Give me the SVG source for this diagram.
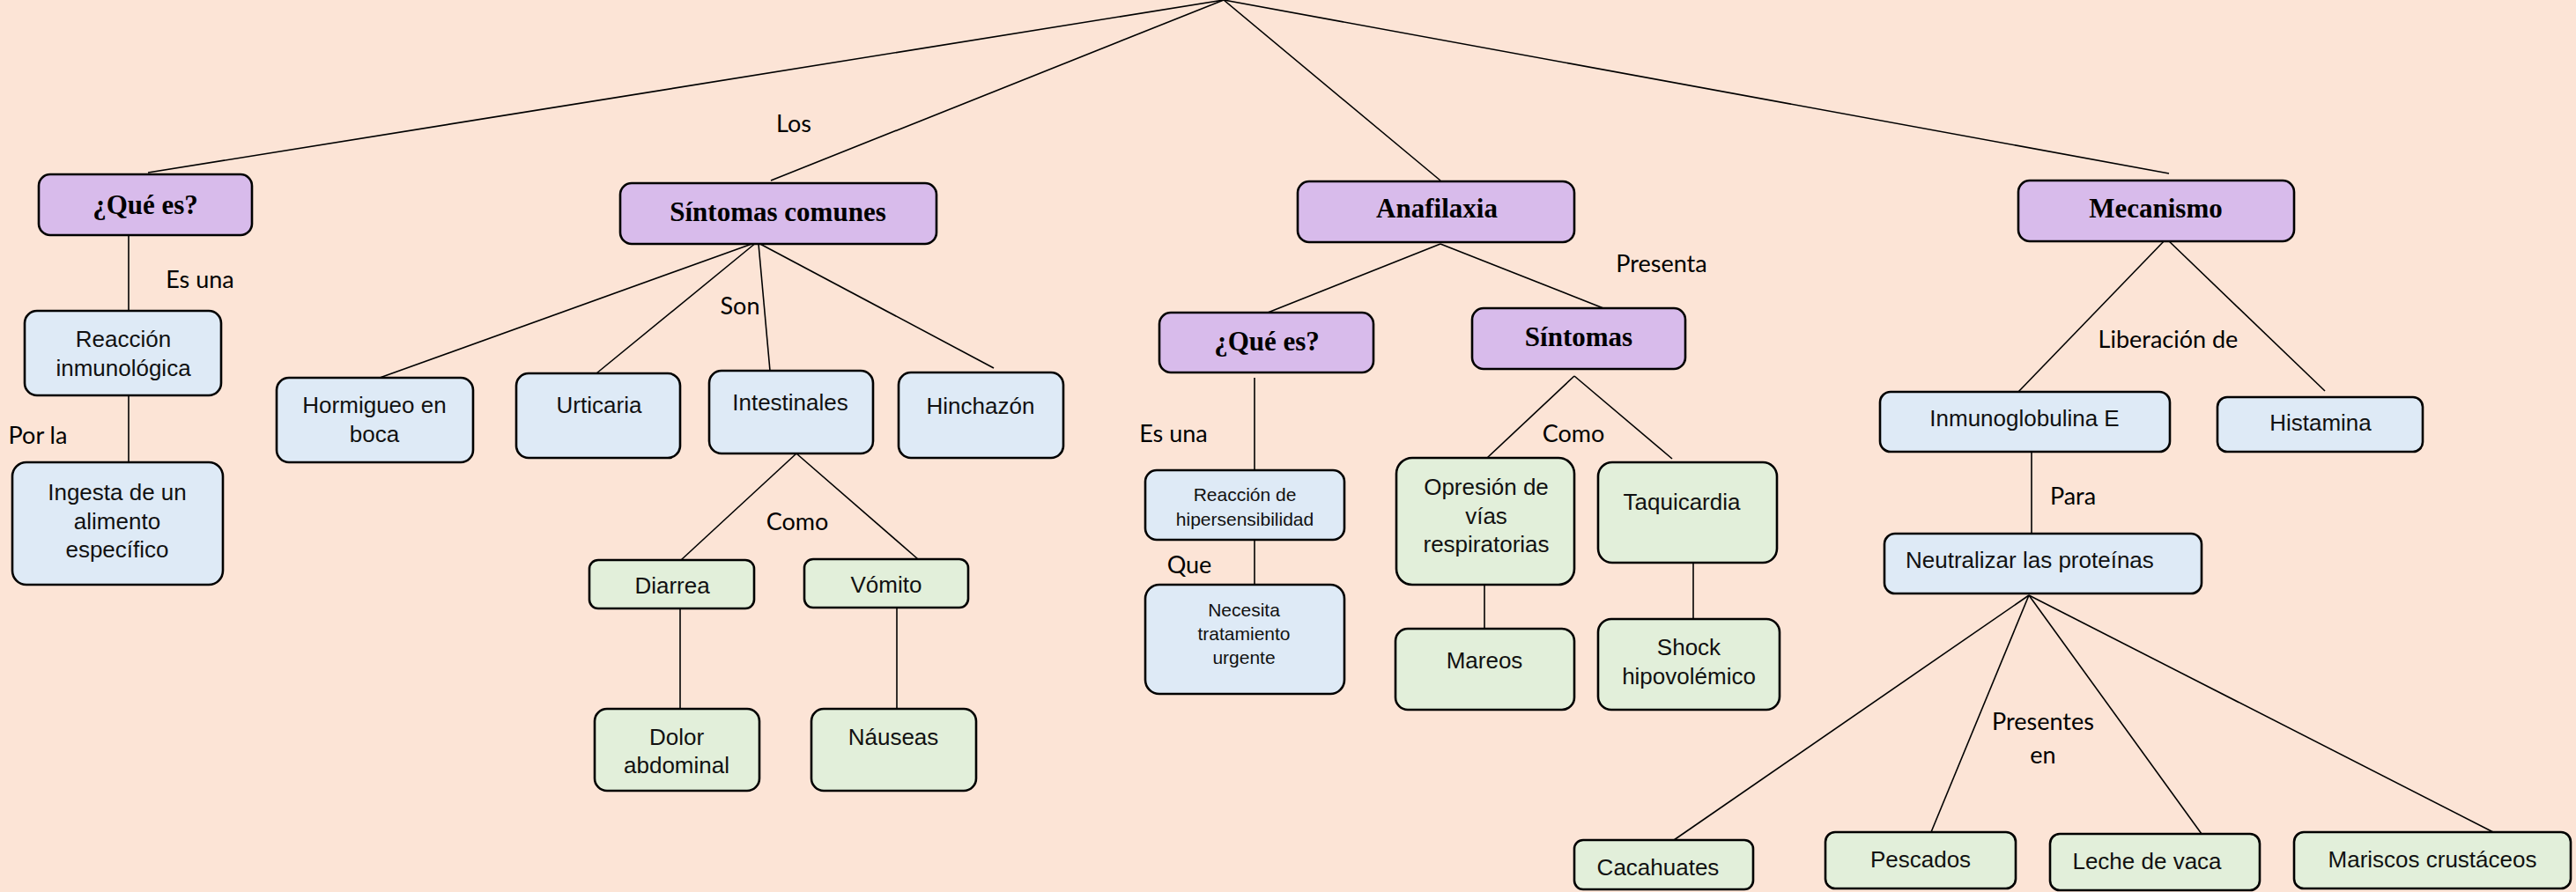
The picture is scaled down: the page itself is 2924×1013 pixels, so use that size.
<svg xmlns="http://www.w3.org/2000/svg" width="2924" height="1013" viewBox="0 0 2924 1013">
<style>
.bg{fill:#FCE4D6}
.box{stroke:#000;stroke-width:2.6}
.p{fill:#D8BBEB}
.b{fill:#DEEAF6}
.g{fill:#E2EFDA}
.t{font-family:"Liberation Serif",serif;font-weight:bold;font-size:31px;fill:#000;text-anchor:middle}
.n{font-family:"Liberation Sans",Arial,sans-serif;font-size:26px;fill:#111;text-anchor:middle}
.n.st{text-anchor:start}
.s{font-family:"Liberation Sans",Arial,sans-serif;font-size:21px;fill:#111;text-anchor:middle}
.l{font-family:Lato,"Open Sans",sans-serif;font-size:27px;fill:#000;text-anchor:middle}
#connectors line{stroke:#000;stroke-width:1.6}
</style>
<rect class="bg" x="0" y="0" width="2924" height="1013"/>
<g id="connectors">
<line x1="1389" y1="0" x2="168" y2="196"/>
<line x1="1389" y1="0" x2="875" y2="205"/>
<line x1="1389" y1="0" x2="1635" y2="205"/>
<line x1="1389" y1="0" x2="2462" y2="197"/>
<line x1="146" y1="267" x2="146" y2="353"/>
<line x1="146" y1="449" x2="146" y2="525"/>
<line x1="859" y1="275" x2="431" y2="429"/>
<line x1="859" y1="275" x2="677" y2="424"/>
<line x1="861" y1="277" x2="874" y2="421"/>
<line x1="859" y1="275" x2="1128" y2="418"/>
<line x1="904" y1="515" x2="773" y2="636"/>
<line x1="904" y1="515" x2="1042" y2="635"/>
<line x1="772" y1="691" x2="772" y2="805"/>
<line x1="1018" y1="690" x2="1018" y2="805"/>
<line x1="1635" y1="277" x2="1439" y2="355"/>
<line x1="1635" y1="277" x2="1820" y2="350"/>
<line x1="1424" y1="429" x2="1424" y2="534"/>
<line x1="1424" y1="613" x2="1424" y2="664"/>
<line x1="1787" y1="427" x2="1688" y2="520"/>
<line x1="1787" y1="427" x2="1898" y2="521"/>
<line x1="1685" y1="664" x2="1685" y2="714"/>
<line x1="1922" y1="639" x2="1922" y2="703"/>
<line x1="2459" y1="271" x2="2291" y2="445"/>
<line x1="2459" y1="271" x2="2639" y2="444"/>
<line x1="2306" y1="513" x2="2306" y2="606"/>
<line x1="2303" y1="676" x2="1900" y2="954"/>
<line x1="2303" y1="676" x2="2192" y2="945"/>
<line x1="2303" y1="676" x2="2499" y2="947"/>
<line x1="2303" y1="676" x2="2830" y2="945"/>
</g>
<g id="labels">
<text class="l" x="901" y="150">Los</text>
<text class="l" x="227" y="327">Es una</text>
<text class="l" x="43" y="504">Por la</text>
<text class="l" x="840" y="357">Son</text>
<text class="l" x="905" y="602">Como</text>
<text class="l" x="1886" y="309">Presenta</text>
<text class="l" x="1332" y="502">Es una</text>
<text class="l" x="1350" y="651">Que</text>
<text class="l" x="1786" y="502">Como</text>
<text class="l" x="2461" y="395">Liberación de</text>
<text class="l" x="2353" y="573">Para</text>
<text class="l" x="2319" y="829">Presentes</text>
<text class="l" x="2319" y="867">en</text>
</g>
<g id="q1"><rect class="box p" x="44" y="198" width="242" height="69" rx="13"/><text class="t" x="165" y="243">¿Qué es?</text></g>
<g id="sintomas-comunes"><rect class="box p" x="704" y="208" width="359" height="69" rx="13"/><text class="t" x="883" y="251">Síntomas comunes</text></g>
<g id="reaccion"><rect class="box b" x="28" y="353" width="223" height="96" rx="14"/><text class="n" x="140" y="394">Reacción</text><text class="n" x="140" y="427">inmunológica</text></g>
<g id="ingesta"><rect class="box b" x="14" y="525" width="239" height="139" rx="16"/><text class="n" x="133" y="568">Ingesta de un</text><text class="n" x="133" y="601">alimento</text><text class="n" x="133" y="633">específico</text></g>
<g id="hormigueo"><rect class="box b" x="314" y="429" width="223" height="96" rx="14"/><text class="n" x="425" y="469">Hormigueo en</text><text class="n" x="425" y="502">boca</text></g>
<g id="urticaria"><rect class="box b" x="586" y="424" width="186" height="96" rx="14"/><text class="n" x="680" y="469">Urticaria</text></g>
<g id="intestinales"><rect class="box b" x="805" y="421" width="186" height="94" rx="14"/><text class="n" x="897" y="466">Intestinales</text></g>
<g id="hinchazon"><rect class="box b" x="1020" y="423" width="187" height="97" rx="14"/><text class="n" x="1113" y="470">Hinchazón</text></g>
<g id="diarrea"><rect class="box g" x="669" y="636" width="187" height="55" rx="10"/><text class="n" x="763" y="674">Diarrea</text></g>
<g id="vomito"><rect class="box g" x="913" y="635" width="186" height="55" rx="10"/><text class="n" x="1006" y="673">Vómito</text></g>
<g id="dolor"><rect class="box g" x="675" y="805" width="187" height="93" rx="14"/><text class="n" x="768" y="846">Dolor</text><text class="n" x="768" y="878">abdominal</text></g>
<g id="nauseas"><rect class="box g" x="921" y="805" width="187" height="93" rx="14"/><text class="n" x="1014" y="846">Náuseas</text></g>
<g id="anafilaxia"><rect class="box p" x="1473" y="206" width="314" height="69" rx="13"/><text class="t" x="1631" y="247">Anafilaxia</text></g>
<g id="q2"><rect class="box p" x="1316" y="355" width="243" height="68" rx="13"/><text class="t" x="1438" y="398">¿Qué es?</text></g>
<g id="sintomas"><rect class="box p" x="1671" y="350" width="242" height="69" rx="13"/><text class="t" x="1792" y="393">Síntomas</text></g>
<g id="hipersensibilidad"><rect class="box b" x="1300" y="534" width="226" height="79" rx="13"/><text class="s" x="1413" y="569">Reacción de</text><text class="s" x="1413" y="597">hipersensibilidad</text></g>
<g id="necesita"><rect class="box b" x="1300" y="664" width="226" height="124" rx="16"/><text class="s" x="1412" y="700">Necesita</text><text class="s" x="1412" y="727">tratamiento</text><text class="s" x="1412" y="754">urgente</text></g>
<g id="opresion"><rect class="box g" x="1585" y="520" width="202" height="144" rx="18"/><text class="n" x="1687" y="562">Opresión de</text><text class="n" x="1687" y="595">vías</text><text class="n" x="1687" y="627">respiratorias</text></g>
<g id="taquicardia"><rect class="box g" x="1814" y="525" width="203" height="114" rx="16"/><text class="n" x="1909" y="579">Taquicardia</text></g>
<g id="mareos"><rect class="box g" x="1584" y="714" width="203" height="92" rx="14"/><text class="n" x="1685" y="759">Mareos</text></g>
<g id="shock"><rect class="box g" x="1814" y="703" width="206" height="103" rx="15"/><text class="n" x="1917" y="744">Shock</text><text class="n" x="1917" y="777">hipovolémico</text></g>
<g id="mecanismo"><rect class="box p" x="2291" y="205" width="313" height="69" rx="13"/><text class="t" x="2447" y="247">Mecanismo</text></g>
<g id="inmunoglobulina"><rect class="box b" x="2134" y="445" width="329" height="68" rx="12"/><text class="n" x="2298" y="484">Inmunoglobulina E</text></g>
<g id="histamina"><rect class="box b" x="2517" y="451" width="233" height="62" rx="11"/><text class="n" x="2634" y="489">Histamina</text></g>
<g id="neutralizar"><rect class="box b" x="2139" y="606" width="360" height="68" rx="12"/><text class="n st" x="2163" y="645">Neutralizar las proteínas</text></g>
<g id="cacahuates"><rect class="box g" x="1787" y="954" width="203" height="56" rx="10"/><text class="n" x="1882" y="994">Cacahuates</text></g>
<g id="pescados"><rect class="box g" x="2072" y="945" width="216" height="64" rx="11"/><text class="n" x="2180" y="985">Pescados</text></g>
<g id="leche"><rect class="box g" x="2327" y="947" width="238" height="64" rx="11"/><text class="n" x="2437" y="987">Leche de vaca</text></g>
<g id="mariscos"><rect class="box g" x="2604" y="945" width="314" height="64" rx="11"/><text class="n" x="2761" y="985">Mariscos crustáceos</text></g>
</svg>
